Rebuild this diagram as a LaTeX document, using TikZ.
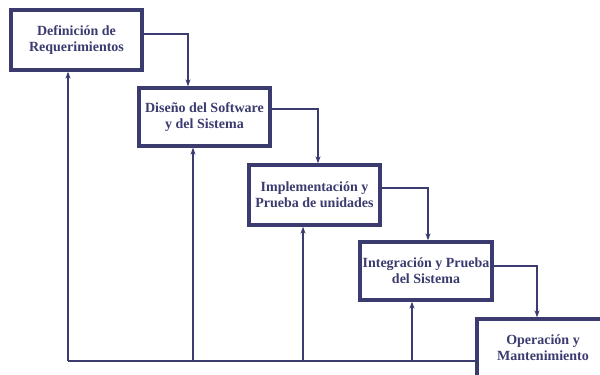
\documentclass[tikz,border=0pt]{standalone}
\usepackage{fontspec}
\setmainfont{Liberation Serif}
\usetikzlibrary{arrows.meta}
\definecolor{navy}{HTML}{3B3B70}
\tikzset{
  x=1pt, y=-1pt,
  phase/.style={draw=navy, line width=3.3pt, fill=white, text=navy,
    font=\bfseries\fontsize{14}{16}\selectfont, align=center,
    inner sep=0pt, minimum height=58pt},
  conn/.style={draw=navy, line width=2.3pt},
  arr/.style={conn, -{Stealth[length=7pt,width=5pt]}}
}
\begin{document}
\begin{tikzpicture}
\useasboundingbox (0,0) rectangle (600,375);
\coordinate (f1) at (68,361);
\coordinate (f2) at (193,361);
\coordinate (f3) at (303,361);
\coordinate (f4) at (412,361);
\node[phase, minimum width=131pt, minimum height=60pt] (b1) at (76.5,40) {Definición de\\Requerimientos};
\node[phase, minimum width=131pt] (b2) at (204.5,117) {Diseño del Software\\y del Sistema};
\node[phase, minimum width=131pt, minimum height=60pt] (b3) at (314.5,195) {Implementación y\\Prueba de unidades};
\node[phase, minimum width=132pt] (b4) at (426,271) {Integración y Prueba\\del Sistema};
\node[phase, minimum width=132pt] (b5) at (543,348) {Operación y\\Mantenimiento};
% forward flow
\draw[arr] ([yshift=6pt]b1.east) -| ([xshift=-16.5pt]b2.north);
\draw[arr] ([yshift=8pt]b2.east) -| ([xshift=3.5pt]b3.north);
\draw[arr] ([yshift=7pt]b3.east) -| ([xshift=2pt]b4.north);
\draw[arr] ([yshift=5pt]b4.east) -| ([xshift=-6pt]b5.north);
% feedback
\draw[conn] (f1) -- (f1 -| b5.west);
\draw[arr] (f1) -- (f1 |- b1.south);
\draw[arr] (f2) -- (f2 |- b2.south);
\draw[arr] (f3) -- (f3 |- b3.south);
\draw[arr] (f4) -- (f4 |- b4.south);
\end{tikzpicture}
\end{document}
